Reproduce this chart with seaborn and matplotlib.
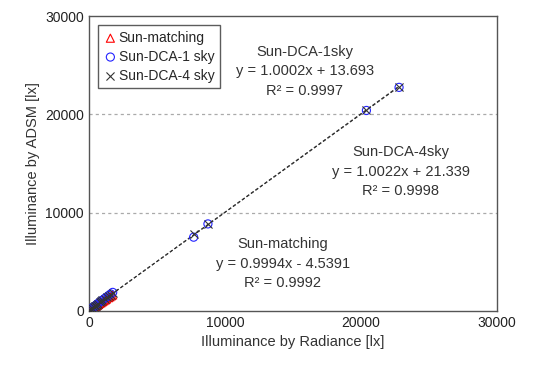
import matplotlib
matplotlib.use("Agg")
import matplotlib.pyplot as plt
import seaborn as sns
import numpy as np
import pandas as pd

sns.set_style("white")
plt.rcParams['font.family'] = ['Liberation Sans', 'DejaVu Sans']

# Radiance (x) vs ADSM (y) values
sm_x = [50, 120, 200, 280, 350, 430, 520, 600, 700, 800, 900, 1000, 1100, 1200, 1300, 1450, 1550, 1650, 1750]
sm_y = [30, 90, 160, 240, 310, 380, 470, 550, 640, 740, 830, 930, 1020, 1110, 1210, 1340, 1430, 1530, 1620]

d1_x = [40, 100, 180, 260, 340, 420, 500, 600, 700, 800, 900, 1000, 1150, 1300, 1450, 1600, 1750, 7700, 8750, 20400, 22800]
d1_y = [60, 130, 220, 300, 390, 480, 560, 680, 780, 880, 1000, 1100, 1250, 1400, 1560, 1720, 1880, 7500, 8850, 20400, 22750]

d4_x = [40, 100, 180, 260, 340, 420, 500, 600, 700, 800, 900, 1000, 1150, 1300, 1450, 1600, 1750, 7700, 8750, 20400, 22800]
d4_y = [50, 120, 200, 280, 360, 450, 530, 640, 740, 850, 960, 1060, 1210, 1360, 1510, 1660, 1800, 7800, 8800, 20450, 22800]

fits = {
    "Sun-matching": (0.9994, -4.5391, 1750),
    "Sun-DCA-1 sky": (1.0002, 13.693, 22800),
    "Sun-DCA-4 sky": (1.0022, 21.339, 22800),
}

fig, ax = plt.subplots(figsize=(5.42, 3.67), dpi=100)
fig.subplots_adjust(left=0.164, right=0.917, top=0.956, bottom=0.153)

for y in [10000, 20000]:
    ax.axhline(y, color="#aaaaaa", lw=0.9, ls=(0, (2.5, 2.5)), zorder=0)

for name, (m, b, xmax) in fits.items():
    xs = np.array([0, xmax])
    ax.plot(xs, m * xs + b, color="#333333", lw=0.8, ls=(0, (3, 2)), zorder=1)

sns.scatterplot(x=sm_x, y=sm_y, ax=ax, marker="^", s=34, facecolors="none",
                edgecolor="red", linewidth=0.8, label="Sun-matching", zorder=3)
sns.scatterplot(x=d1_x, y=d1_y, ax=ax, marker="o", s=34, facecolors="none",
                edgecolor="#2222ff", linewidth=0.8, label="Sun-DCA-1 sky", zorder=3)
sns.scatterplot(x=d4_x, y=d4_y, ax=ax, marker="x", s=34, color="#333333",
                linewidth=0.8, label="Sun-DCA-4 sky", zorder=4)

ax.set_xlim(0, 30000)
ax.set_ylim(0, 30000)
ax.set_xticks([0, 10000, 20000, 30000])
ax.set_yticks([0, 10000, 20000, 30000])
ax.tick_params(labelsize=10, colors="#222222", length=0)
ax.set_xlabel("Illuminance by Radiance [lx]", fontsize=10.5, color="#333333")
ax.set_ylabel("Illuminance by ADSM [lx]", fontsize=10.5, color="#333333")
for sp in ax.spines.values():
    sp.set_color("#555555")
    sp.set_linewidth(1.0)

leg = ax.legend(loc="upper left", bbox_to_anchor=(0.022, 0.969), frameon=True, fancybox=False,
                edgecolor="#333333", fontsize=10, handletextpad=0.1, borderpad=0.4,
                labelspacing=0.35, handlelength=1.0, borderaxespad=0.0)
leg.get_frame().set_linewidth(1.0)

fs = 10.5
ax.text(15880, 24400, "Sun-DCA-1sky\ny = 1.0002x + 13.693\nR² = 0.9997", ha="center", va="center",
        fontsize=fs, color="#333333", linespacing=1.5)
ax.text(22940, 14140, "Sun-DCA-4sky\ny = 1.0022x + 21.339\nR² = 0.9998", ha="center", va="center",
        fontsize=fs, color="#333333", linespacing=1.5)
ax.text(14260, 4780, "Sun-matching\ny = 0.9994x - 4.5391\nR² = 0.9992", ha="center", va="center",
        fontsize=fs, color="#333333", linespacing=1.5)

fig.savefig("out.png", dpi=100)
